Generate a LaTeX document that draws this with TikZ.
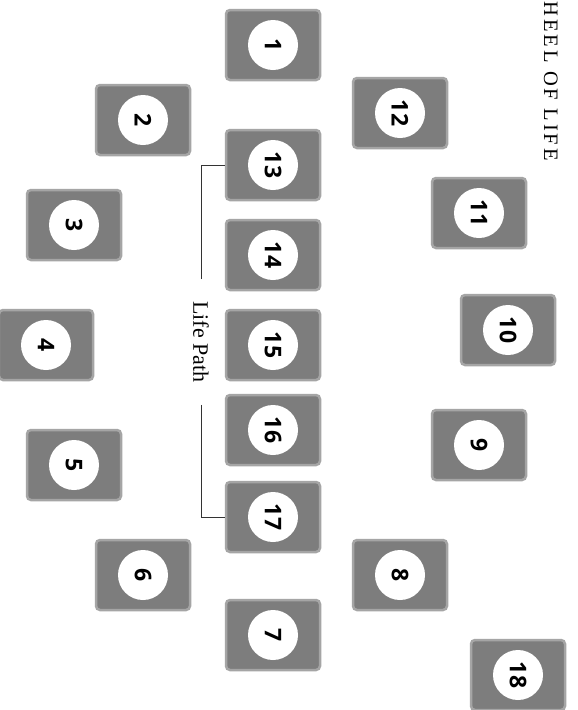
\documentclass[tikz,border=0pt]{standalone}
\usepackage{fontspec}
\setmainfont{Liberation Serif}
\newfontfamily\numfont{Open Sans}
\usetikzlibrary{calc}
\definecolor{cardgray}{RGB}{125,125,125}
\definecolor{cardedge}{RGB}{165,165,165}
\tikzset{
  card/.style={rectangle, minimum width=94pt, minimum height=70pt, fill=cardgray,
    draw=cardedge, line width=2.5pt, rounded corners=4pt, inner sep=0pt},
  disc/.style={circle, fill=white, minimum size=50pt, inner sep=0pt,
    font=\numfont\bfseries\fontsize{23}{23}\selectfont, rotate=-90},
  bracket/.style={draw=black!80, line width=1pt},
  lplabel/.style={rotate=-90, font=\fontsize{22}{22}\selectfont, inner xsep=22pt, inner ysep=0pt},
}
\begin{document}
\begin{tikzpicture}[x=1pt,y=-1pt]
\useasboundingbox[fill=white] (0,0) rectangle (578,710);
\foreach \n/\x/\y in {1/273/45, 2/143/120, 3/74/225, 4/46/345, 5/74/465, 6/143/575,
  7/273/635, 8/400/575, 9/479/445, 10/508/330, 11/479/213, 12/400/113,
  13/273/165, 14/273/255, 15/273/345, 16/273/430, 17/273/517, 18/518/675}{
  \node[card] (c\n) at (\x,\y) {};
  \node[disc] (n\n) at (c\n) {\n};
}
\node[lplabel] (lp) at (201,342) {Life Path};
\draw[bracket] (lp.west) |- (c13.west);
\draw[bracket] (lp.east) |- (c17.west);
\node[rotate=-90, anchor=base west, inner sep=0pt,
  font=\fontsize{20.5}{20.5}\selectfont\addfontfeature{LetterSpace=15}] (title) at (544,1) {HEEL OF LIFE};
\end{tikzpicture}
\end{document}
